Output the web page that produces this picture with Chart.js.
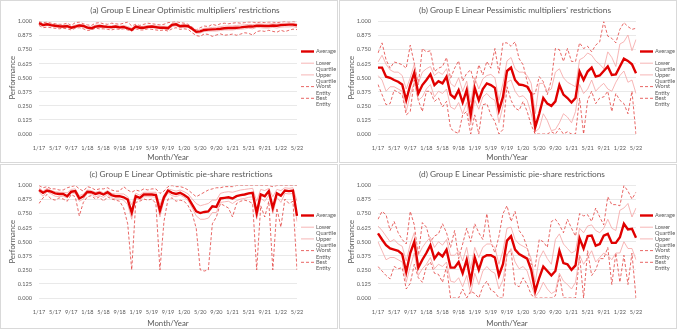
<!DOCTYPE html>
<html lang="en">
<head>
<meta charset="UTF-8">
<title>Group E Linear - Performance</title>
<script src="https://cdn.jsdelivr.net/npm/chart.js"></script>
<style>
  body { margin: 0; background: #fff; }
  .panel { position: absolute; border: 1px solid #d9d9d9; background: #fff; }
  .panel canvas { display: block; }
</style>
</head>
<body>
<div class="panel" style="left:0;top:0;width:336px;height:161px"><canvas id="chartA"></canvas></div>
<div class="panel" style="left:339px;top:0;width:336px;height:161px"><canvas id="chartB"></canvas></div>
<div class="panel" style="left:0;top:164px;width:336px;height:163px"><canvas id="chartC"></canvas></div>
<div class="panel" style="left:339px;top:164px;width:336px;height:163px"><canvas id="chartD"></canvas></div>

<script>
// months 1/17 .. 5/22
const months = [];
for (let y = 17; y <= 22; y++) {
    for (let m = 1; m <= 12; m++) {
        if (y === 22 && m > 5) break;
        months.push(m + '/' + y);
    }
}
const tickLabels = ['1/17','5/17','9/17','1/18','5/18','9/18','1/19','5/19','9/19',
                    '1/20','5/20','9/20','1/21','5/21','9/21','1/22','5/22'];
const yTicks = [0, 0.125, 0.25, 0.375, 0.5, 0.625, 0.75, 0.875, 1];
const seriesNames = ['Average', 'Lower Quartile', 'Upper Quartile', 'Worst Entity', 'Best Entity'];

// (a) optimistic multipliers
const avgA = [0.985,0.968,0.975,0.968,0.962,0.958,0.955,0.958,0.945,0.955,
              0.965,0.960,0.945,0.940,0.955,0.960,0.955,0.952,0.950,0.955,
              0.948,0.952,0.940,0.925,0.955,0.945,0.945,0.952,0.955,0.950,
              0.945,0.945,0.940,0.970,0.975,0.958,0.962,0.958,0.935,0.908,
              0.912,0.925,0.928,0.930,0.932,0.935,0.940,0.942,0.942,0.945,
              0.948,0.952,0.955,0.955,0.962,0.962,0.960,0.960,0.965,0.962,
              0.968,0.970,0.972,0.972,0.965];
const lqA  = [0.975,0.958,0.965,0.958,0.952,0.948,0.945,0.948,0.935,0.945,
              0.955,0.950,0.935,0.930,0.945,0.950,0.945,0.942,0.940,0.945,
              0.938,0.942,0.932,0.918,0.945,0.935,0.935,0.942,0.945,0.940,
              0.935,0.935,0.925,0.955,0.962,0.945,0.950,0.948,0.925,0.895,
              0.898,0.912,0.915,0.915,0.915,0.920,0.925,0.925,0.925,0.930,
              0.932,0.935,0.940,0.935,0.948,0.945,0.942,0.942,0.948,0.942,
              0.950,0.952,0.952,0.955,0.945];
const uqA  = [0.992,0.978,0.985,0.978,0.972,0.968,0.965,0.970,0.955,0.968,
              0.975,0.970,0.955,0.952,0.968,0.970,0.965,0.962,0.962,0.965,
              0.960,0.965,0.955,0.940,0.965,0.955,0.958,0.965,0.965,0.962,
              0.958,0.958,0.955,0.982,0.988,0.970,0.972,0.968,0.948,0.918,
              0.928,0.940,0.942,0.948,0.948,0.955,0.960,0.960,0.960,0.965,
              0.968,0.970,0.975,0.972,0.978,0.978,0.975,0.978,0.980,0.978,
              0.982,0.985,0.985,0.985,0.980];
const worstA = [0.965,0.945,0.950,0.945,0.940,0.935,0.940,0.935,0.925,0.940,
                0.945,0.935,0.920,0.925,0.940,0.935,0.935,0.930,0.925,0.935,
                0.930,0.935,0.925,0.915,0.935,0.925,0.925,0.935,0.930,0.925,
                0.920,0.925,0.915,0.935,0.945,0.930,0.935,0.930,0.900,0.875,
                0.868,0.890,0.885,0.868,0.880,0.890,0.878,0.882,0.888,0.878,
                0.888,0.900,0.895,0.880,0.910,0.918,0.912,0.922,0.912,0.905,
                0.922,0.910,0.922,0.932,0.928];
const bestA = [1.000,0.990,0.995,0.985,0.980,0.975,0.975,0.985,0.965,0.990,
               0.995,0.980,0.970,0.965,0.985,0.990,0.980,0.975,0.985,0.980,
               0.975,0.985,0.995,0.960,0.975,0.965,0.975,0.985,0.980,0.975,
               0.970,0.975,0.990,0.995,1.000,0.990,0.985,0.975,0.950,0.925,
               0.945,0.960,0.955,0.975,0.965,0.980,0.985,0.980,0.985,0.990,
               0.985,0.990,0.995,0.995,0.990,0.995,0.990,0.995,0.995,0.990,
               0.995,1.000,0.995,1.000,0.995];

// (b) pessimistic multipliers
const avgB = [0.59,0.59,0.51,0.50,0.48,0.465,0.44,0.30,0.435,0.545,
              0.36,0.435,0.48,0.53,0.435,0.47,0.45,0.51,0.35,0.32,
              0.39,0.28,0.39,0.17,0.41,0.30,0.40,0.45,0.435,0.41,
              0.21,0.33,0.56,0.59,0.48,0.44,0.435,0.42,0.36,0.06,
              0.18,0.32,0.27,0.25,0.29,0.435,0.35,0.32,0.28,0.32,
              0.555,0.48,0.555,0.59,0.51,0.52,0.56,0.60,0.525,0.53,
              0.60,0.67,0.65,0.62,0.54];
const lqB  = [0.52,0.48,0.38,0.42,0.42,0.40,0.38,0.20,0.35,0.46,
              0.30,0.33,0.40,0.44,0.33,0.38,0.36,0.40,0.24,0.22,
              0.28,0.18,0.28,0.08,0.30,0.22,0.33,0.36,0.32,0.30,
              0.10,0.25,0.46,0.48,0.38,0.33,0.34,0.30,0.18,0.02,
              0.05,0.18,0.12,0.03,0.04,0.10,0.18,0.15,0.10,0.20,
              0.44,0.36,0.40,0.48,0.38,0.42,0.45,0.40,0.38,0.46,
              0.52,0.56,0.46,0.48,0.36];
const uqB  = [0.64,0.70,0.62,0.57,0.55,0.55,0.52,0.40,0.50,0.62,
              0.45,0.55,0.58,0.60,0.52,0.55,0.53,0.58,0.45,0.42,
              0.50,0.38,0.47,0.28,0.50,0.40,0.49,0.52,0.53,0.50,
              0.30,0.45,0.65,0.68,0.58,0.55,0.55,0.52,0.45,0.18,
              0.45,0.45,0.38,0.40,0.55,0.58,0.50,0.46,0.44,0.42,
              0.66,0.68,0.72,0.70,0.65,0.62,0.58,0.73,0.68,0.60,
              0.80,0.82,0.88,0.74,0.84];
const worstB = [0.44,0.35,0.26,0.27,0.39,0.37,0.35,0.17,0.20,0.48,
                0.30,0.20,0.38,0.38,0.29,0.32,0.24,0.29,0.05,0.02,
                0.005,0.17,0.20,0.00,0.17,0.00,0.26,0.27,0.17,0.11,
                0.00,0.04,0.42,0.30,0.23,0.21,0.29,0.20,0.08,0.00,
                0.00,0.00,0.00,0.02,0.00,0.05,0.00,0.02,0.00,0.00,
                0.32,0.00,0.30,0.38,0.27,0.32,0.33,0.38,0.20,0.36,
                0.30,0.27,0.18,0.38,0.00];
const bestB = [0.72,0.81,0.66,0.585,0.64,0.63,0.615,0.585,0.79,0.63,
               0.44,0.76,0.73,0.74,0.555,0.585,0.60,0.68,0.495,0.585,
               0.65,0.47,0.54,0.57,0.44,0.615,0.525,0.645,0.585,0.76,
               0.54,0.81,0.81,0.78,0.82,0.67,0.615,0.465,0.35,0.36,
               0.51,0.465,0.35,0.48,0.76,0.75,0.645,0.76,0.645,0.645,
               0.81,0.76,0.78,0.73,0.79,0.82,1.00,0.87,0.85,0.81,
               0.93,0.99,0.955,0.93,0.94];

// (c) optimistic pie-share
const avgC = [0.96,0.935,0.955,0.945,0.93,0.925,0.925,0.905,0.945,0.95,
              0.885,0.905,0.945,0.94,0.925,0.935,0.92,0.94,0.915,0.905,
              0.905,0.895,0.875,0.76,0.905,0.89,0.92,0.92,0.92,0.915,
              0.775,0.895,0.955,0.935,0.925,0.935,0.915,0.89,0.83,0.77,
              0.755,0.765,0.77,0.815,0.81,0.885,0.89,0.895,0.885,0.905,
              0.915,0.92,0.93,0.935,0.755,0.92,0.905,0.95,0.80,0.93,
              0.91,0.955,0.95,0.955,0.73];
const lqC  = [0.94,0.905,0.945,0.925,0.905,0.90,0.905,0.89,0.935,0.93,
              0.86,0.88,0.93,0.925,0.90,0.91,0.895,0.92,0.89,0.88,
              0.88,0.87,0.83,0.70,0.89,0.87,0.90,0.90,0.90,0.895,
              0.72,0.87,0.935,0.91,0.90,0.915,0.895,0.865,0.80,0.73,
              0.70,0.70,0.71,0.76,0.76,0.85,0.855,0.86,0.84,0.865,
              0.88,0.885,0.895,0.90,0.70,0.885,0.86,0.915,0.75,0.895,
              0.85,0.93,0.925,0.93,0.68];
const uqC  = [0.98,0.95,0.975,0.955,0.945,0.94,0.94,0.935,0.965,0.97,
              0.91,0.925,0.96,0.955,0.94,0.95,0.935,0.955,0.93,0.925,
              0.925,0.925,0.90,0.83,0.93,0.915,0.94,0.94,0.94,0.94,
              0.83,0.915,0.97,0.96,0.95,0.96,0.945,0.925,0.88,0.84,
              0.82,0.83,0.84,0.87,0.87,0.93,0.94,0.945,0.94,0.95,
              0.96,0.965,0.97,0.975,0.86,0.965,0.955,0.975,0.90,0.965,
              0.955,0.98,0.975,0.98,0.86];
const worstC = [0.84,0.89,0.92,0.88,0.87,0.89,0.88,0.86,0.92,0.90,
                0.73,0.85,0.90,0.91,0.88,0.90,0.86,0.90,0.88,0.87,
                0.86,0.80,0.66,0.25,0.85,0.86,0.88,0.87,0.88,0.84,
                0.25,0.68,0.88,0.89,0.86,0.87,0.86,0.82,0.75,0.62,
                0.25,0.24,0.25,0.66,0.72,0.84,0.82,0.80,0.72,0.84,
                0.86,0.87,0.86,0.84,0.25,0.82,0.72,0.86,0.25,0.80,
                0.63,0.88,0.84,0.86,0.25];
const bestC = [1.00,0.98,0.99,0.97,0.97,0.96,0.96,0.98,0.99,1.00,
               0.97,0.95,0.99,0.98,0.96,0.97,0.97,0.98,0.96,0.95,
               0.95,0.99,0.96,0.94,0.96,0.95,0.97,0.96,0.97,0.97,
               0.93,0.95,0.99,1.00,0.99,0.99,0.98,0.96,0.93,0.90,
               0.92,0.94,0.96,0.97,0.98,0.98,0.99,0.99,0.99,1.00,
               1.00,1.00,1.00,1.00,1.00,1.00,1.00,1.00,0.99,1.00,
               1.00,1.00,1.00,1.00,1.00];

// (d) pessimistic pie-share
const avgD = [0.575,0.52,0.47,0.44,0.43,0.42,0.39,0.23,0.40,0.50,
              0.27,0.34,0.40,0.47,0.35,0.40,0.37,0.43,0.27,0.27,
              0.32,0.22,0.34,0.15,0.36,0.25,0.36,0.38,0.38,0.36,
              0.20,0.30,0.51,0.55,0.43,0.39,0.37,0.35,0.25,0.06,
              0.18,0.28,0.24,0.20,0.24,0.42,0.31,0.30,0.25,0.29,
              0.53,0.44,0.55,0.555,0.465,0.48,0.555,0.57,0.49,0.49,
              0.54,0.66,0.61,0.615,0.535];
const lqD  = [0.50,0.42,0.34,0.36,0.36,0.34,0.32,0.14,0.28,0.40,
              0.20,0.26,0.30,0.36,0.26,0.30,0.28,0.32,0.15,0.14,
              0.18,0.10,0.20,0.04,0.22,0.12,0.24,0.28,0.24,0.22,
              0.08,0.16,0.38,0.44,0.32,0.26,0.28,0.24,0.12,0.01,
              0.06,0.14,0.08,0.04,0.06,0.22,0.15,0.12,0.08,0.14,
              0.38,0.30,0.36,0.42,0.32,0.36,0.40,0.38,0.34,0.40,
              0.40,0.50,0.44,0.44,0.34];
const uqD  = [0.64,0.60,0.55,0.50,0.52,0.48,0.46,0.33,0.48,0.58,
              0.38,0.45,0.50,0.54,0.45,0.50,0.47,0.52,0.38,0.38,
              0.42,0.33,0.45,0.26,0.45,0.36,0.45,0.48,0.48,0.45,
              0.30,0.42,0.62,0.63,0.52,0.48,0.46,0.44,0.35,0.14,
              0.35,0.42,0.35,0.30,0.52,0.57,0.48,0.44,0.40,0.42,
              0.62,0.58,0.64,0.65,0.60,0.58,0.62,0.70,0.62,0.60,
              0.78,0.80,0.84,0.72,0.80];
const worstD = [0.28,0.24,0.20,0.17,0.28,0.26,0.27,0.08,0.13,0.30,
                0.18,0.14,0.28,0.32,0.22,0.21,0.14,0.28,0.00,0.00,
                0.00,0.08,0.00,0.06,0.04,0.00,0.10,0.15,0.07,0.05,
                0.00,0.00,0.40,0.42,0.12,0.10,0.18,0.12,0.03,0.00,
                0.00,0.00,0.00,0.00,0.02,0.20,0.00,0.00,0.00,0.00,
                0.38,0.00,0.42,0.20,0.25,0.35,0.35,0.45,0.12,0.40,
                0.14,0.38,0.12,0.40,0.00];
const bestD = [0.70,0.77,0.74,0.60,0.68,0.58,0.52,0.48,0.77,0.65,
               0.38,0.67,0.63,0.50,0.55,0.57,0.66,0.58,0.45,0.60,
               0.35,0.48,0.62,0.50,0.66,0.58,0.52,0.75,0.50,0.40,
               0.55,0.75,0.82,0.68,0.77,0.60,0.55,0.45,0.30,0.28,
               0.52,0.50,0.45,0.68,0.70,0.65,0.58,0.70,0.62,0.55,
               0.75,0.73,0.74,0.68,0.80,0.72,0.65,0.90,0.83,0.83,
               0.82,1.00,0.95,0.88,0.94];

Chart.defaults.font.family = 'Lato';
Chart.defaults.color = '#595959';

// titre + legenda desenhados a mao (estilo Excel)
const decor = {
    id: 'decor',
    afterDraw(chart, args, opts) {
        const ctx = chart.ctx;
        ctx.save();
        ctx.fillStyle = '#595959';
        ctx.textBaseline = 'middle';
        ctx.font = '8.3px Lato';
        ctx.textAlign = 'center';
        ctx.fillText(opts.title, opts.titleX, 9.6);

        ctx.font = '5.6px Lato';
        ctx.textAlign = 'left';
        chart.data.datasets.forEach(function (ds, k) {
            const y = 50.5 + k * 11.7;
            ctx.strokeStyle = ds.borderColor;
            ctx.lineWidth = ds.borderWidth;
            ctx.setLineDash(ds.borderDash || []);
            ctx.beginPath();
            ctx.moveTo(300, y);
            ctx.lineTo(313, y);
            ctx.stroke();
            const words = ds.label.split(' ');
            words.forEach(function (w, j) {
                ctx.fillText(w, 315, y + j * 6.3);
            });
        });
        ctx.restore();
    }
};

function makeChart(id, title, titleX, avg, lq, uq, worst, best) {
    const h = document.getElementById(id).parentNode.clientHeight;
    const dados = {
        labels: months,
        datasets: [
            { label: seriesNames[0], data: avg,   borderColor: '#e00000', borderWidth: 2.4 },
            { label: seriesNames[1], data: lq,    borderColor: '#f5a3a3', borderWidth: 0.8 },
            { label: seriesNames[2], data: uq,    borderColor: '#f5a3a3', borderWidth: 0.8 },
            { label: seriesNames[3], data: worst, borderColor: '#e2403e', borderWidth: 0.8, borderDash: [3, 2] },
            { label: seriesNames[4], data: best,  borderColor: '#e2403e', borderWidth: 0.8, borderDash: [3, 2] }
        ]
    };
    dados.datasets.forEach(function (d) { d.pointRadius = 0; d.tension = 0; d.fill = false; });

    return new Chart(document.getElementById(id), {
        type: 'line',
        data: dados,
        options: {
            responsive: true,
            maintainAspectRatio: false,
            animation: false,
            layout: { padding: { top: 20.5, right: 40, left: 0, bottom: 0 } },
            plugins: {
                legend: { display: false },
                tooltip: { enabled: false },
                decor: { title: title, titleX: titleX }
            },
            scales: {
                x: {
                    offset: false,
                    grid: { display: false },
                    border: { display: false },
                    ticks: {
                        autoSkip: false,
                        maxRotation: 0,
                        padding: 3,
                        font: { size: 5.6 },
                        callback: function (v) {
                            const l = this.getLabelForValue(v);
                            return tickLabels.includes(l) ? l : '';
                        }
                    },
                    title: { display: true, text: 'Month/Year', font: { size: 7.8 }, padding: { top: 0, bottom: 0 } },
                    afterFit: function (s) { s.height = h - 133; }
                },
                y: {
                    min: 0, max: 1,
                    afterBuildTicks: function (s) { s.ticks = yTicks.map(function (v) { return { value: v }; }); },
                    grid: { color: '#e3e3e3', lineWidth: 0.8, drawTicks: false },
                    border: { display: false },
                    ticks: {
                        padding: 7,
                        font: { size: 5.6 },
                        callback: function (v) { return v.toFixed(3); }
                    },
                    title: { display: true, text: 'Performance', font: { size: 7.8 }, padding: { top: 6.5, bottom: 0 } },
                    afterFit: function (s) { s.width = 38; }
                }
            }
        },
        plugins: [decor]
    });
}

makeChart('chartA', "(a) Group E Linear Optimistic multipliers' restrictions", 184, avgA, lqA, uqA, worstA, bestA);
makeChart('chartB', "(b) Group E Linear Pessimistic multipliers' restrictions", 175, avgB, lqB, uqB, worstB, bestB);
makeChart('chartC', "(c) Group E Linear Optimistic pie-share restrictions", 180, avgC, lqC, uqC, worstC, bestC);
makeChart('chartD', "(d) Group E Linear Pessimistic pie-share restrictions", 172, avgD, lqD, uqD, worstD, bestD);
</script>
</body>
</html>
